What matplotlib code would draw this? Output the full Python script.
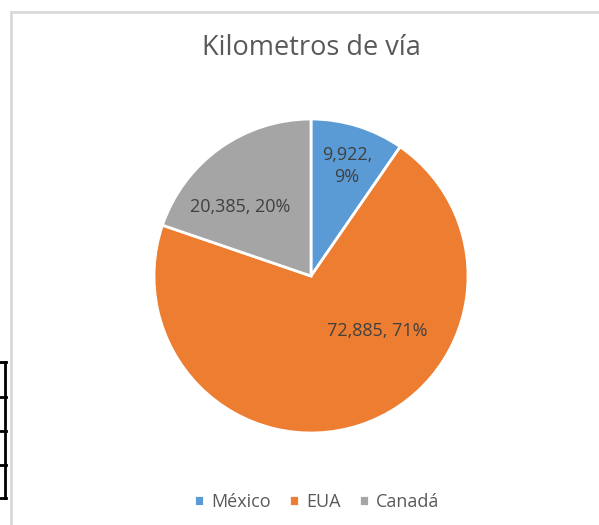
import matplotlib.pyplot as plt
from matplotlib.lines import Line2D

# data
paises = ["México", "EUA", "Canadá"]
kilometros = [9922, 72885, 20385]
porcentajes = [9, 71, 20]
colores = ["#5b9bd5", "#ed7d31", "#a5a5a5"]

plt.rcParams['font.family'] = ['Open Sans', 'DejaVu Sans']

fig = plt.figure(figsize=(5.99, 5.25), dpi=100)

# chart border like the spreadsheet frame
frame = plt.axes([11/599, 0, 1, 1 - 12/525])
frame.set_xticks([])
frame.set_yticks([])
for s in ["top", "left"]:
    frame.spines[s].set_color("#d9d9d9")
    frame.spines[s].set_linewidth(2)
for s in ["right", "bottom"]:
    frame.spines[s].set_visible(False)

# cell borders to the left of the chart
for yy in [362, 397, 431, 465, 498]:
    fig.add_artist(Line2D([0, 6/599], [1 - yy/525, 1 - yy/525], color="black", lw=2))
fig.add_artist(Line2D([5/599, 5/599], [1 - 362/525, 1 - 498/525], color="black", lw=2))

r = 157
cx, cy = 311, 276
ax = plt.axes([(cx - r)/599, 1 - (cy + r)/525, 2*r/599, 2*r/525])
wedges, _ = ax.pie(kilometros, colors=colores, startangle=90, counterclock=False,
                   wedgeprops=dict(edgecolor="white", linewidth=2))
ax.set_aspect("auto")
ax.set_xlim(-1, 1)
ax.set_ylim(-1, 1)

etiquetas = []
for k, p in zip(kilometros, porcentajes):
    etiquetas.append("{:,}, {}%".format(k, p))
etiquetas[0] = etiquetas[0].replace(" ", "\n")
pos = [(0.23, 0.70), (0.42, -0.35), (-0.45, 0.44)]
for e, p in zip(etiquetas, pos):
    ax.text(p[0], p[1], e, ha="center", va="center", fontsize=13, color="#404040",
            linespacing=1.25)

fig.text(311/599, 1 - 48/525, "Kilometros de vía", ha="center", va="center",
         fontsize=19.5, color="#595959")

fig.legend(wedges, paises, loc="center", bbox_to_anchor=(317/599, 1 - 502/525), ncol=3,
           frameon=False, fontsize=13, handlelength=0.55, handleheight=0.55,
           handletextpad=0.4, columnspacing=1.0, labelcolor="#595959")

fig.savefig("out.png", dpi=100)
